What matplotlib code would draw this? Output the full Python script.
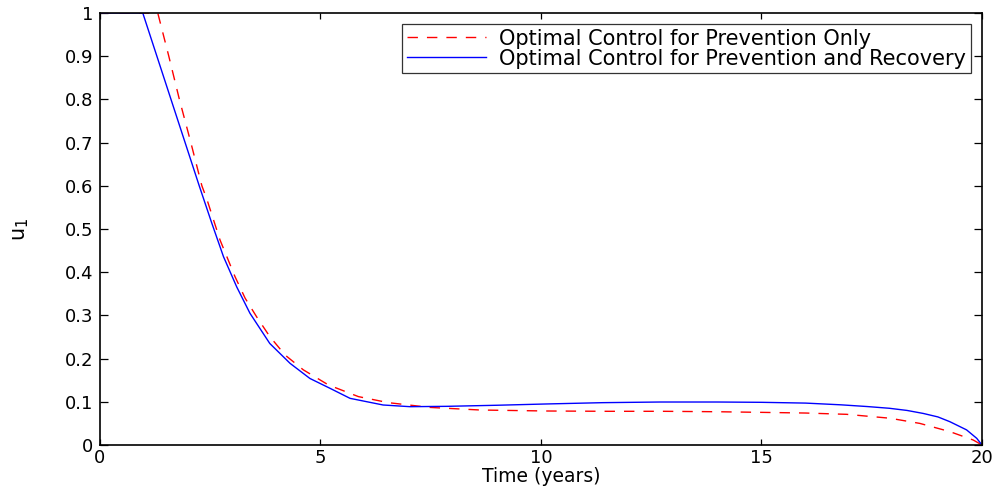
import numpy as np
import matplotlib
matplotlib.use("Agg")
import matplotlib.pyplot as plt

plt.rcParams['font.family'] = ['DejaVu Sans']

# values
t_prev = [0, 1.31, 1.56, 1.80, 2.06, 2.31, 2.42, 2.72, 3.06, 3.29, 3.55, 3.85, 4.2, 4.61,
          5.18, 5.86, 6.54, 7.48, 8.62, 10.13, 11.5, 12.77, 14.0, 14.97, 16.0, 16.93, 17.91,
          18.59, 19.27, 19.8, 20]
u_prev = [1, 1, 0.9, 0.8, 0.7, 0.6, 0.57, 0.475, 0.39, 0.34, 0.297, 0.251, 0.208, 0.174,
          0.139, 0.112, 0.098, 0.087, 0.081, 0.0787, 0.078, 0.078, 0.077, 0.0756, 0.074, 0.071, 0.062,
          0.050, 0.031, 0.0116, 0]

t_both = [0, 0.97, 1.29, 1.61, 1.93, 2.25, 2.53, 2.80, 3.10, 3.40, 3.85, 4.31, 4.76, 5.22,
          5.67, 6.42, 7.03, 7.86, 9.0, 10.13, 11.4, 12.7, 14.0, 15.0, 16.0, 16.8, 17.4, 17.9,
          18.3, 18.67, 19.0, 19.27, 19.65, 19.88, 20]
u_both = [1, 1, 0.9, 0.8, 0.7, 0.6, 0.515, 0.436, 0.366, 0.305, 0.235, 0.189, 0.154, 0.131,
          0.108, 0.0926, 0.0887, 0.0895, 0.092, 0.095, 0.098, 0.0995, 0.0995, 0.0988, 0.097, 0.093, 0.089, 0.085,
          0.080, 0.073, 0.065, 0.054, 0.035, 0.0155, 0]

fig = plt.figure(figsize=(10.03, 4.92), dpi=100)
ax = fig.add_axes([100 / 1003, 47 / 492, 882 / 1003, 432 / 492])

ax.plot(t_prev, u_prev, color='red', lw=1.0, dashes=(7.5, 6.5), label='Optimal Control for Prevention Only')
ax.plot(t_both, u_both, color='blue', lw=1.0, label='Optimal Control for Prevention and Recovery')

ax.set_xlim(0, 20)
ax.set_ylim(0, 1)
ax.set_xticks([0, 5, 10, 15, 20])
ax.set_yticks(np.arange(0, 1.01, 0.1))
ax.set_yticklabels(['0', '0.1', '0.2', '0.3', '0.4', '0.5', '0.6', '0.7', '0.8', '0.9', '1'])
ax.tick_params(direction='in', top=True, right=True, labelsize=13, width=0.9, pad=5)
ax.tick_params(axis='y', length=6)
ax.tick_params(axis='x', length=4, pad=3)
for s in ax.spines.values():
    s.set_linewidth(1.2)

ax.set_xlabel('Time (years)', fontsize=13.5, labelpad=0)
ax.set_ylabel('$\\mathregular{u_1}$', fontsize=15, labelpad=24)

leg = ax.legend(loc='upper right', fontsize=15, frameon=True, fancybox=False,
                edgecolor='black', handlelength=3.8, borderpad=0.2, labelspacing=0.0,
                handletextpad=0.65, borderaxespad=0.55)
leg.get_frame().set_linewidth(0.9)

fig.savefig('out.png', dpi=100)
